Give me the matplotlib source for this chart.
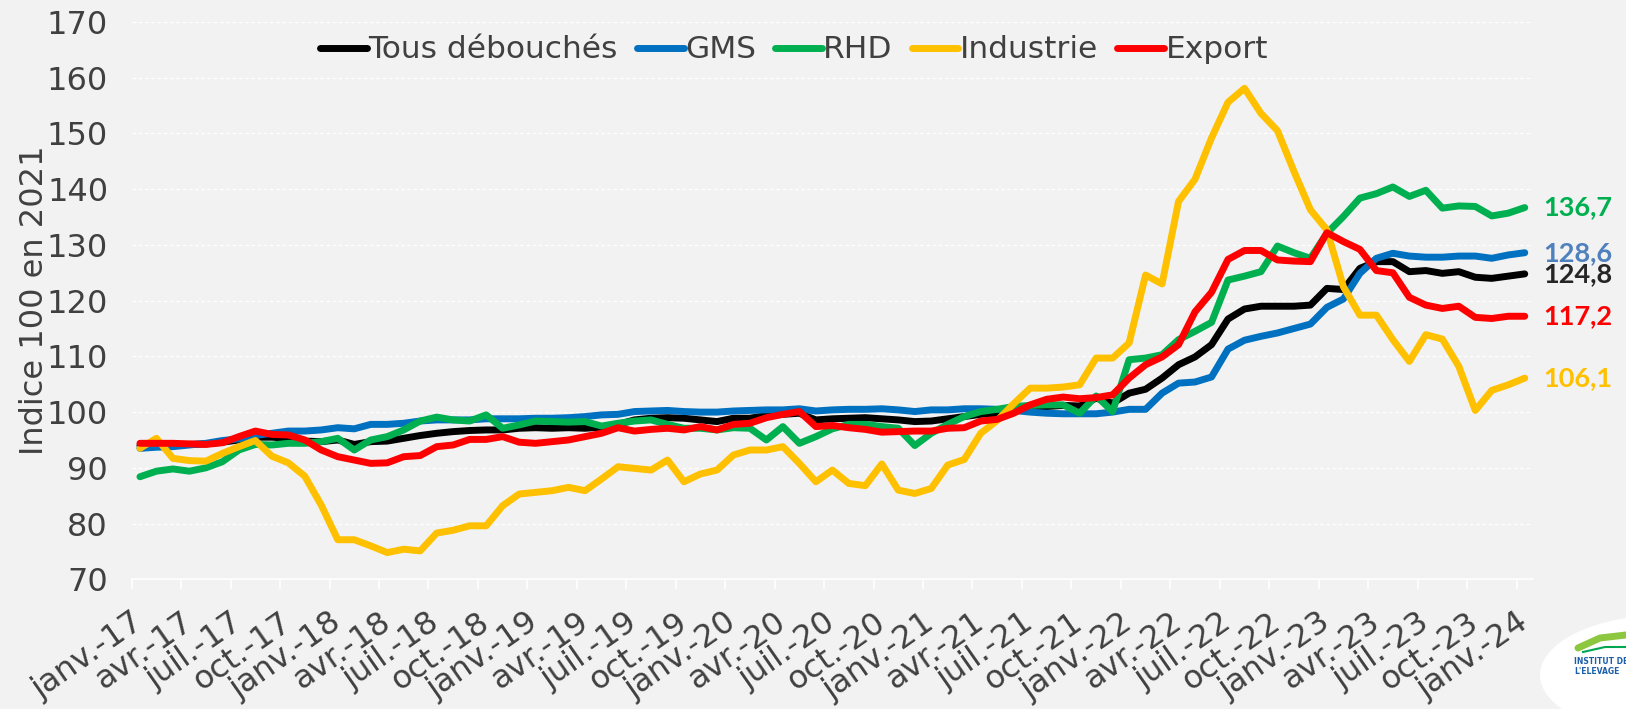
import matplotlib
matplotlib.use('Agg')
import matplotlib.pyplot as plt
from matplotlib.patches import Ellipse
from matplotlib.lines import Line2D
import numpy as np

# monthly index, janv.-17 .. janv.-24 (85 months)
tous = [94.0, 94.0, 94.1, 94.2, 94.3, 94.6, 95.0, 95.5, 95.5, 95.3,
        94.8, 94.7, 95.0, 94.2, 94.7, 94.8, 95.3, 95.8, 96.2, 96.5,
        96.7, 96.8, 96.8, 97.1, 97.2, 97.1, 97.2, 97.1, 97.3, 97.8,
        98.6, 98.9, 99.0, 98.9, 98.6, 98.3, 98.9, 98.9, 99.4, 99.6,
        99.8, 98.6, 98.8, 98.9, 99.0, 98.8, 98.6, 98.3, 98.4, 98.8,
        99.2, 99.6, 99.8, 100.2, 100.7, 101.0, 101.2, 101.1, 102.5, 101.6,
        103.4, 104.1, 106.1, 108.5, 109.9, 112.1, 116.7, 118.5, 119.0, 119.0,
        119.0, 119.2, 122.2, 122.0, 125.8, 127.0, 127.0, 125.2, 125.4, 124.9,
        125.2, 124.2, 124.0, 124.4, 124.8]
gms = [93.5, 93.7, 93.8, 94.1, 94.4, 94.9, 95.2, 95.8, 96.2, 96.6,
       96.6, 96.8, 97.2, 97.0, 97.8, 97.8, 98.0, 98.4, 98.6, 98.6,
       98.6, 98.8, 98.8, 98.8, 98.9, 98.9, 99.0, 99.2, 99.5, 99.6,
       100.1, 100.2, 100.3, 100.1, 100.0, 100.0, 100.2, 100.3, 100.4, 100.4,
       100.6, 100.2, 100.4, 100.5, 100.5, 100.6, 100.4, 100.1, 100.4, 100.4,
       100.6, 100.6, 100.5, 100.3, 100.0, 99.8, 99.7, 99.7, 99.7, 100.0,
       100.5, 100.5, 103.4, 105.2, 105.4, 106.3, 111.3, 112.9, 113.6, 114.2,
       115.0, 115.8, 118.8, 120.3, 124.9, 127.6, 128.5, 128.0, 127.8, 127.8,
       128.0, 128.0, 127.6, 128.2, 128.6]
rhd = [88.4, 89.4, 89.8, 89.4, 90.0, 91.1, 93.2, 94.2, 94.1, 94.4,
       94.4, 94.7, 95.3, 93.2, 95.0, 95.6, 96.8, 98.4, 99.1, 98.6,
       98.4, 99.5, 97.1, 97.7, 98.4, 98.3, 98.2, 98.3, 97.5, 98.0,
       98.4, 98.6, 97.8, 97.1, 97.1, 96.8, 97.2, 97.1, 95.0, 97.4,
       94.4, 95.6, 97.0, 97.8, 97.8, 97.4, 97.1, 94.0, 96.2, 97.8,
       99.2, 100.1, 100.5, 101.0, 101.2, 101.3, 101.3, 99.8, 102.9, 100.1,
       109.4, 109.7, 110.3, 113.0, 114.5, 116.1, 123.7, 124.4, 125.2, 129.8,
       128.6, 127.6, 132.1, 135.1, 138.4, 139.2, 140.4, 138.7, 139.8, 136.6,
       137.0, 136.9, 135.2, 135.7, 136.7]
industrie = [93.5, 95.3, 91.7, 91.3, 91.2, 92.6, 93.8, 94.9, 92.1, 90.9,
             88.5, 83.3, 77.1, 77.1, 76.0, 74.8, 75.4, 75.1, 78.3, 78.8,
             79.6, 79.6, 83.2, 85.3, 85.6, 85.9, 86.5, 85.9, 88.0, 90.2,
             89.9, 89.6, 91.4, 87.5, 88.9, 89.6, 92.3, 93.2, 93.2, 93.8,
             90.8, 87.5, 89.6, 87.2, 86.8, 90.7, 86.0, 85.4, 86.3, 90.5,
             91.5, 96.2, 98.5, 101.5, 104.3, 104.3, 104.5, 104.9, 109.7, 109.7,
             112.4, 124.6, 123.0, 137.8, 141.8, 149.2, 155.6, 158.1, 153.6, 150.5,
             143.2, 136.3, 132.7, 122.5, 117.4, 117.4, 113.0, 109.1, 113.9, 113.1,
             108.2, 100.3, 103.9, 104.9, 106.1]
export = [94.4, 94.4, 94.4, 94.3, 94.2, 94.5, 95.6, 96.6, 96.0, 95.9,
          95.0, 93.2, 92.0, 91.4, 90.8, 90.9, 92.0, 92.2, 93.8, 94.1,
          95.1, 95.1, 95.6, 94.6, 94.4, 94.7, 95.0, 95.6, 96.2, 97.2,
          96.6, 96.9, 97.1, 96.8, 97.4, 96.8, 97.8, 98.0, 99.0, 99.6,
          100.1, 97.4, 97.6, 97.2, 96.9, 96.4, 96.5, 96.6, 96.6, 97.1,
          97.2, 98.4, 98.7, 99.8, 101.3, 102.3, 102.7, 102.4, 102.6, 103.1,
          106.1, 108.5, 109.9, 112.1, 118.0, 121.5, 127.4, 129.0, 129.0, 127.3,
          127.1, 127.0, 132.2, 130.6, 129.2, 125.4, 125.0, 120.6, 119.2, 118.6,
          119.0, 117.0, 116.8, 117.2, 117.2]

tick_labels = ['janv.-17', 'avr.-17', 'juil.-17', 'oct.-17',
               'janv.-18', 'avr.-18', 'juil.-18', 'oct.-18',
               'janv.-19', 'avr.-19', 'juil.-19', 'oct.-19',
               'janv.-20', 'avr.-20', 'juil.-20', 'oct.-20',
               'janv.-21', 'avr.-21', 'juil.-21', 'oct.-21',
               'janv.-22', 'avr.-22', 'juil.-22', 'oct.-22',
               'janv.-23', 'avr.-23', 'juil.-23', 'oct.-23',
               'janv.-24']

series = [('Tous débouchés', tous, '#000000', '#262626'),
          ('GMS', gms, '#0070C0', '#4F81BD'),
          ('RHD', rhd, '#00B050', '#00B050'),
          ('Industrie', industrie, '#FFC000', '#FFC000'),
          ('Export', export, '#FF0000', '#FF0000')]

BG = '#F2F2F2'
TXT = '#404040'
W, H = 1626, 709

plt.rcParams['font.family'] = ['DejaVu Sans']

fig = plt.figure(figsize=(W / 100, H / 100), dpi=100, facecolor=BG)
ax = fig.add_axes([131.7 / W, 1 - 579.3 / H, (1533 - 131.7) / W, (579.3 - 22) / H])
ax.set_facecolor(BG)

x = np.arange(len(tous))
for name, vals, col, lab_col in series:
    ax.plot(x, vals, color=col, lw=5, label=name,
            solid_joinstyle='round', solid_capstyle='round')
    # value of last month at the right end
    ax.annotate(f'{vals[-1]:.1f}'.replace('.', ','), xy=(x[-1], vals[-1]),
                xytext=(13, 0), textcoords='offset points', va='center', ha='left',
                fontsize=19.5, fontweight='bold', family='Lato', color=lab_col,
                annotation_clip=False)

ax.set_xlim(-0.5, len(tous) - 0.5)
ax.set_ylim(70, 170)
ax.set_yticks(np.arange(70, 171, 10))
ax.yaxis.grid(True, color='white', lw=0.9, ls=(0, (3, 2)))
ax.set_axisbelow(True)

ax.set_xticks(np.arange(0, len(tous), 3))
ax.set_xticklabels(tick_labels, rotation=35, ha='right', va='center',
                   rotation_mode='anchor')
ax.set_xticks(np.arange(-0.5, len(tous) - 1, 3), minor=True)
ax.tick_params(axis='x', which='major', length=0, pad=29, labelsize=23, labelcolor=TXT)
ax.tick_params(axis='x', which='minor', length=7, width=1.2, color='white')
ax.tick_params(axis='y', length=0, pad=17, labelsize=23, labelcolor=TXT)

for s in ['top', 'right', 'left']:
    ax.spines[s].set_visible(False)
ax.spines['bottom'].set_color('white')
ax.spines['bottom'].set_linewidth(1.2)

ax.set_ylabel('Indice 100 en 2021', fontsize=23, color=TXT)
ax.yaxis.set_label_coords(-0.058, 0.5)

ax.legend(loc='center', bbox_to_anchor=(794 / W, 1 - 50 / H), bbox_transform=fig.transFigure,
          ncol=5, frameon=False, fontsize=22.5, labelcolor=TXT,
          handlelength=1.5, handletextpad=0.05, columnspacing=0.6)

# logo placeholder, bottom right
fig.patches.append(Ellipse((1665 / W, 1 - 675 / H), 250 / W, 120 / H,
                           transform=fig.transFigure, facecolor='white', edgecolor='none'))
fig.add_artist(Line2D([1578 / W, 1600 / W, 1626 / W], [1 - 648 / H, 1 - 638 / H, 1 - 635 / H],
                      transform=fig.transFigure, color='#8DC63F', lw=5, solid_capstyle='round'))
fig.add_artist(Line2D([1583 / W, 1605 / W, 1626 / W], [1 - 652 / H, 1 - 647 / H, 1 - 647 / H],
                      transform=fig.transFigure, color='#00A651', lw=1.5))
fig.text(1574 / W, 1 - 661 / H, 'INSTITUT DE', fontsize=5.5, fontweight='bold',
         color='#1B5FAA', va='center', ha='left')
fig.text(1574 / W, 1 - 671 / H, "L'ELEVAGE", fontsize=5.5, fontweight='bold',
         color='#1B5FAA', va='center', ha='left')

fig.savefig('out.png', dpi=100, facecolor=BG)
